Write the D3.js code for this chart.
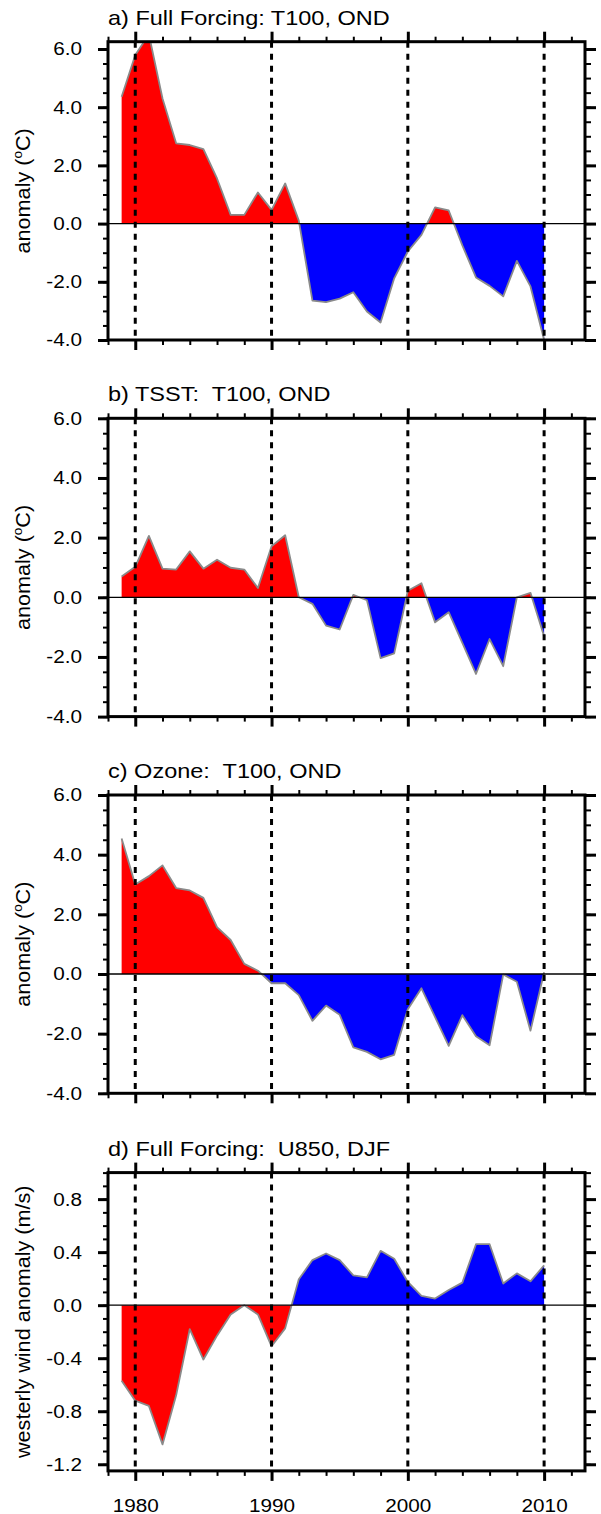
<!DOCTYPE html>
<html>
<head>
<meta charset="utf-8">
<script src="https://cdn.jsdelivr.net/npm/d3@7"></script>
<style>
  html, body { margin: 0; padding: 0; background: #fff; }
  svg { display: block; }
  text.title { white-space: pre; }
</style>
</head>
<body>
<script>
// ---------------- DATA ----------------
const years = [1979, 1980, 1981, 1982, 1983, 1984, 1985, 1986, 1987, 1988,
               1989, 1990, 1991, 1992, 1993, 1994, 1995, 1996, 1997, 1998,
               1999, 2000, 2001, 2002, 2003, 2004, 2005, 2006, 2007, 2008,
               2009, 2010];

const fullForcingT100 = [4.36, 5.79, 6.50, 4.30, 2.76, 2.70, 2.56, 1.55, 0.30, 0.30,
                         1.07, 0.47, 1.38, 0.10, -2.65, -2.70, -2.58, -2.36, -3.02, -3.40,
                         -1.88, -0.96, -0.39, 0.56, 0.45, -0.75, -1.85, -2.14, -2.50, -1.28,
                         -2.16, -4.00];

const tsstT100 = [0.70, 1.02, 2.06, 0.96, 0.93, 1.54, 0.96, 1.26, 0.99, 0.93,
                  0.31, 1.71, 2.08, 0.00, -0.22, -0.95, -1.08, 0.08, -0.10, -2.04,
                  -1.88, 0.22, 0.47, -0.84, -0.50, -1.53, -2.57, -1.40, -2.31, 0.00,
                  0.15, -1.31];

const ozoneT100 = [4.54, 3.00, 3.28, 3.64, 2.88, 2.80, 2.55, 1.57, 1.14, 0.34,
                   0.11, -0.31, -0.31, -0.71, -1.57, -1.06, -1.37, -2.46, -2.61, -2.86,
                   -2.71, -1.18, -0.48, -1.45, -2.41, -1.38, -2.09, -2.39, -0.02, -0.26,
                   -1.90, 0.06];

const fullForcingU850 = [-0.57, -0.72, -0.76, -1.05, -0.68, -0.18, -0.41, -0.23, -0.07, 0.00,
                         -0.07, -0.31, -0.175, 0.195, 0.34, 0.39, 0.34, 0.225, 0.21, 0.41,
                         0.35, 0.175, 0.07, 0.05, 0.115, 0.17, 0.46, 0.46, 0.163, 0.24,
                         0.18, 0.30];

const panelTitles = ["a) Full Forcing: T100, OND",
                     "b) TSST:  T100, OND",
                     "c) Ozone:  T100, OND",
                     "d) Full Forcing:  U850, DJF"];

const xDomain = [1978, 2013];
const xMajorTicks = [1980, 1990, 2000, 2010];
const xMinorTicks = [1978, 1982, 1984, 1986, 1988, 1992, 1994, 1996, 1998,
                     2002, 2004, 2006, 2008, 2012];

const tYDomainA = [-4, 6.25];
const tYDomain = [-4, 6];
const tYMajorTicks = [-4, -2, 0, 2, 4, 6];
const uYDomain = [-1.25, 1.0];
const uYMajorTicks = [-1.2, -0.8, -0.4, 0.0, 0.4, 0.8];

// ---------------- LAYOUT ----------------
const W = 601, H = 1514;
const left = 108, right = 585;
const tops = [41.7, 418.3, 795, 1172.6];
const ph = 298.3;
const FONT = "'Liberation Sans', Arial, Helvetica, sans-serif";
const SX = 1.12; // horizontal stretch of NCL helvetica

const panels = [
  { title: panelTitles[0], values: fullForcingT100, dom: tYDomainA, major: tYMajorTicks,
    minor: d3.range(-8, 13).map(i => i / 2), pos: "#ff0000", neg: "#0000ff",
    ylabel: "T" },
  { title: panelTitles[1], values: tsstT100, dom: tYDomain, major: tYMajorTicks,
    minor: d3.range(-8, 13).map(i => i / 2), pos: "#ff0000", neg: "#0000ff",
    ylabel: "T" },
  { title: panelTitles[2], values: ozoneT100, dom: tYDomain, major: tYMajorTicks,
    minor: d3.range(-8, 13).map(i => i / 2), pos: "#ff0000", neg: "#0000ff",
    ylabel: "T" },
  { title: panelTitles[3], values: fullForcingU850, dom: uYDomain, major: uYMajorTicks,
    minor: d3.range(-12, 11).map(i => i / 10), pos: "#0000ff", neg: "#ff0000",
    ylabel: "U" }
];

const svg = d3.select("body").append("svg").attr("width", W).attr("height", H);
const defs = svg.append("defs");

const x = d3.scaleLinear().domain(xDomain).range([left, right]);

function styleTicks(sel, width) {
  sel.select(".domain").remove();
  sel.selectAll(".tick line").attr("stroke", "#000").attr("stroke-width", width);
}

panels.forEach((p, i) => {
  const top = tops[i];
  const bottom = top + ph;
  const y = d3.scaleLinear().domain(p.dom).range([bottom, top]);
  const y0 = y(0);
  const g = svg.append("g");

  defs.append("clipPath").attr("id", "box" + i)
    .append("rect").attr("x", left).attr("y", top).attr("width", right - left).attr("height", ph);
  defs.append("clipPath").attr("id", "pos" + i)
    .append("rect").attr("x", left).attr("y", top).attr("width", right - left).attr("height", y0 - top);
  defs.append("clipPath").attr("id", "neg" + i)
    .append("rect").attr("x", left).attr("y", y0).attr("width", right - left).attr("height", bottom - y0);

  const area = d3.area()
    .x((d, j) => x(years[j]))
    .y0(y0)
    .y1(d => y(d));
  const line = d3.line()
    .x((d, j) => x(years[j]))
    .y(d => y(d));

  const inner = g.append("g").attr("clip-path", `url(#box${i})`);
  inner.append("path").datum(p.values).attr("d", area)
    .attr("fill", p.pos).attr("clip-path", `url(#pos${i})`);
  inner.append("path").datum(p.values).attr("d", area)
    .attr("fill", p.neg).attr("clip-path", `url(#neg${i})`);
  inner.append("path").datum(p.values).attr("d", line)
    .attr("fill", "none").attr("stroke", "#8a8a8a").attr("stroke-width", 1.8)
    .attr("stroke-linejoin", "round");

  // zero line
  g.append("line").attr("x1", left).attr("x2", right).attr("y1", y0).attr("y2", y0)
    .attr("stroke", "#000").attr("stroke-width", 1.3);

  // dashed decade lines
  g.selectAll("line.dash").data(xMajorTicks).enter().append("line")
    .attr("class", "dash")
    .attr("x1", d => x(d)).attr("x2", d => x(d))
    .attr("y1", top).attr("y2", bottom)
    .attr("stroke", "#000").attr("stroke-width", 3)
    .attr("stroke-dasharray", "6,6");

  // axes: top
  g.append("g").attr("transform", `translate(0,${top})`)
    .call(d3.axisTop(x).tickValues(xMinorTicks).tickSize(5).tickFormat(""))
    .call(s => styleTicks(s, 2));
  g.append("g").attr("transform", `translate(0,${top})`)
    .call(d3.axisTop(x).tickValues(xMajorTicks).tickSize(10).tickFormat(""))
    .call(s => styleTicks(s, 3));
  // bottom
  g.append("g").attr("transform", `translate(0,${bottom})`)
    .call(d3.axisBottom(x).tickValues(xMinorTicks).tickSize(5).tickFormat(""))
    .call(s => styleTicks(s, 2));
  const bx = g.append("g").attr("transform", `translate(0,${bottom})`)
    .call(d3.axisBottom(x).tickValues(xMajorTicks).tickSize(10)
      .tickFormat(i === panels.length - 1 ? (d => String(d)) : ""))
    .call(s => styleTicks(s, 3));
  if (i === panels.length - 1) {
    bx.selectAll(".tick text")
      .attr("y", 27.5).attr("dy", "0.71em")
      .attr("transform", `scale(${SX},1)`)
      .attr("font-family", FONT).attr("font-size", 18.5).attr("fill", "#000");
  }
  // left
  g.append("g").attr("transform", `translate(${left},0)`)
    .call(d3.axisLeft(y).tickValues(p.minor).tickSize(5).tickFormat(""))
    .call(s => styleTicks(s, 2));
  g.append("g").attr("transform", `translate(${left},0)`)
    .call(d3.axisLeft(y).tickValues(p.major).tickSize(10).tickFormat(d => d.toFixed(1)))
    .call(s => styleTicks(s, 3))
    .call(s => s.selectAll(".tick text")
      .attr("x", -26 / SX)
      .attr("transform", `scale(${SX},1)`)
      .attr("font-family", FONT).attr("font-size", 18.5).attr("fill", "#000"));
  // right
  g.append("g").attr("transform", `translate(${right},0)`)
    .call(d3.axisRight(y).tickValues(p.minor).tickSize(6).tickFormat(""))
    .call(s => styleTicks(s, 2));
  g.append("g").attr("transform", `translate(${right},0)`)
    .call(d3.axisRight(y).tickValues(p.major).tickSize(11).tickFormat(""))
    .call(s => styleTicks(s, 3));

  // frame
  g.append("rect").attr("x", left).attr("y", top).attr("width", right - left).attr("height", ph)
    .attr("fill", "none").attr("stroke", "#000").attr("stroke-width", 3);

  // title
  g.append("text")
    .attr("class", "title")
    .attr("xml:space", "preserve")
    .attr("transform", `translate(${left},${top - 17}) scale(${SX},1)`)
    .attr("font-family", FONT).attr("font-size", 21).attr("fill", "#000")
    .text(p.title);

  // y label
  const yl = g.append("text")
    .attr("transform", `translate(30,${top + ph / 2}) rotate(-90) scale(${SX},1)`)
    .attr("text-anchor", "middle")
    .attr("font-family", FONT).attr("font-size", 19.3).attr("fill", "#000");
  if (p.ylabel === "T") {
    yl.append("tspan").text("anomaly (");
    yl.append("tspan").attr("font-size", 12).attr("dy", -8).text("o");
    yl.append("tspan").attr("dy", 8).text("C)");
  } else {
    yl.text("westerly wind anomaly (m/s)");
  }
});
</script>
</body>
</html>
